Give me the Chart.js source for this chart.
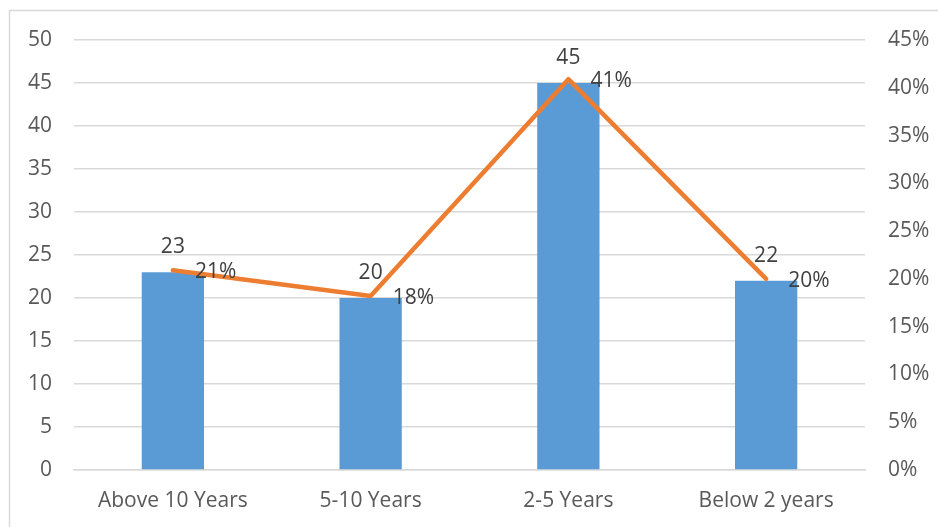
<!DOCTYPE html>
<html>
<head>
<meta charset="utf-8">
<script src="https://cdn.jsdelivr.net/npm/chart.js@4/dist/chart.umd.min.js"></script>
<style>
html,body{margin:0;padding:0;background:#fff;}
canvas{display:block;}
</style>
</head>
<body>
<canvas id="c" width="938" height="527"></canvas>
<script>
const categories = ["Above 10 Years", "5-10 Years", "2-5 Years", "Below 2 years"];
const counts = [23, 20, 45, 22];
const shares = [0.209, 0.182, 0.409, 0.200];
const shareLabels = ["21%", "18%", "41%", "20%"];

const FONT = "'Open Sans', sans-serif";
const FS = 21;

const frame = {
  id: 'frame',
  beforeDraw(chart) {
    const ctx = chart.ctx;
    ctx.save();
    ctx.fillStyle = '#fff';
    ctx.fillRect(0, 0, chart.width, chart.height);
    ctx.strokeStyle = '#D9D9D9';
    ctx.lineWidth = 1.5;
    ctx.beginPath();
    ctx.moveTo(9.5, chart.height + 5);
    ctx.lineTo(9.5, 10.5);
    ctx.lineTo(chart.width + 5, 10.5);
    ctx.stroke();
    ctx.restore();
  }
};

const valueLabels = {
  id: 'valueLabels',
  afterDatasetsDraw(chart) {
    const ctx = chart.ctx;
    ctx.save();
    ctx.font = FS + "px " + FONT;
    ctx.fillStyle = '#404040';
    const barMeta = chart.getDatasetMeta(0);
    barMeta.data.forEach((el, i) => {
      ctx.textAlign = 'center';
      ctx.textBaseline = 'middle';
      ctx.fillText(String(counts[i]), el.x, el.y - 25);
    });
    const lineMeta = chart.getDatasetMeta(1);
    lineMeta.data.forEach((el, i) => {
      ctx.textAlign = 'left';
      ctx.textBaseline = 'middle';
      ctx.fillText(shareLabels[i], el.x + 22, el.y + 2);
    });
    ctx.restore();
  }
};

new Chart(document.getElementById('c'), {
  data: {
    labels: categories,
    datasets: [
      {
        type: 'bar',
        data: counts,
        backgroundColor: '#5B9BD5',
        yAxisID: 'y',
        categoryPercentage: 1,
        barPercentage: 0.315,
        order: 2
      },
      {
        type: 'line',
        data: shares,
        borderColor: '#ED7D31',
        borderWidth: 4.5,
        pointRadius: 0,
        tension: 0,
        borderJoinStyle: 'round',
        borderCapStyle: 'round',
        yAxisID: 'y1',
        order: 1
      }
    ]
  },
  options: {
    responsive: false,
    animation: false,
    layout: { padding: { top: 40, left: 0, right: 0, bottom: 0 } },
    plugins: { legend: { display: false }, tooltip: { enabled: false } },
    scales: {
      x: {
        grid: { display: false, drawTicks: false },
        border: { display: true, color: '#D9D9D9', width: 1.5 },
        ticks: { color: '#595959', font: { family: FONT, size: FS }, padding: 18, maxRotation: 0 },
        afterFit(s) { s.height = 57; }
      },
      y: {
        position: 'left',
        min: 0, max: 50,
        ticks: { stepSize: 5, color: '#595959', font: { family: FONT, size: FS }, padding: 22 },
        grid: { color: '#D9D9D9', lineWidth: 1.5, drawTicks: false },
        border: { display: false },
        afterFit(s) { s.width = 74; }
      },
      y1: {
        position: 'right',
        min: 0, max: 0.45,
        ticks: {
          stepSize: 0.05, color: '#595959', font: { family: FONT, size: FS }, padding: 23,
          callback: v => Math.round(v * 100) + '%'
        },
        grid: { display: false, drawTicks: false },
        border: { display: false },
        afterFit(s) { s.width = 73; }
      }
    }
  },
  plugins: [frame, valueLabels]
});
</script>
</body>
</html>
